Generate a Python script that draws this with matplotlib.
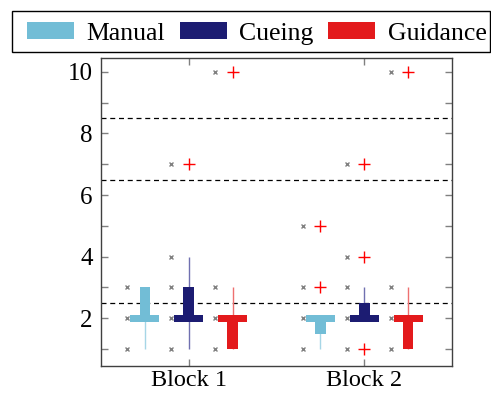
import matplotlib
matplotlib.use("Agg")
import matplotlib.pyplot as plt
from matplotlib.patches import Patch, Rectangle
import numpy as np

blocks = ["Block 1", "Block 2"]
series = ["Manual", "Cueing", "Guidance"]
colors = {"Manual": "#72bdd6", "Cueing": "#1c1c72", "Guidance": "#e31a1c"}
whisker_colors = {"Manual": "#a6d6e6", "Cueing": "#7070b0", "Guidance": "#ee7070"}

# per series: values for [Block 1, Block 2]
q1 = {"Manual": [2, 1.5], "Cueing": [2, 2], "Guidance": [1, 1]}
med = {"Manual": [2, 2], "Cueing": [2, 2], "Guidance": [2, 2]}
q3 = {"Manual": [3, 2], "Cueing": [3, 2.5], "Guidance": [2, 2]}
wlo = {"Manual": [1, 1], "Cueing": [1, 2], "Guidance": [1, 1]}
whi = {"Manual": [3, 2], "Cueing": [4, 3], "Guidance": [3, 3]}
outliers = {"Manual": [[], [3, 5]], "Cueing": [[7], [1, 4, 7]], "Guidance": [[10], [10]]}
raw = {"Manual": [[1, 2, 3], [1, 2, 3, 5]],
       "Cueing": [[1, 2, 3, 4, 7], [1, 2, 3, 4, 7]],
       "Guidance": [[1, 2, 3, 10], [1, 2, 3, 10]]}
hlines = [2.5, 6.5, 8.5]

plt.rcParams['font.family'] = ['Liberation Serif', 'DejaVu Serif']
W, H = 491, 394
fig = plt.figure(figsize=(W / 100, H / 100), dpi=100)
ax = fig.add_axes([101/W, 28/H, 351/W, 308/H])

offsets = {"Manual": -0.25, "Cueing": 0.0, "Guidance": 0.25}
box_w = 0.06
med_w = 0.165
med_h = 0.23
pos = np.arange(1, len(blocks) + 1)

for s in series:
    for i, p in enumerate(pos):
        x = p + offsets[s]
        ax.vlines(x, wlo[s][i], whi[s][i], color=whisker_colors[s], lw=1.0, zorder=2)
        if q3[s][i] > q1[s][i]:
            ax.bar(x, q3[s][i] - q1[s][i], bottom=q1[s][i], width=box_w,
                   color=colors[s], zorder=3, linewidth=0)
        ax.bar(x, med_h, bottom=med[s][i] - med_h / 2, width=med_w,
               color=colors[s], zorder=4, linewidth=0)
        ax.plot([x - 0.1] * len(raw[s][i]), raw[s][i], ls='none', marker='x',
                color='#808080', ms=3.5, mew=1.0, zorder=5)
        if outliers[s][i]:
            ax.plot([x] * len(outliers[s][i]), outliers[s][i], ls='none', marker='+',
                    color='#ff0000', ms=9, mew=1.0, zorder=5)

for h in hlines:
    ax.axhline(h, color='black', ls=(0, (4, 3)), lw=0.9, zorder=1)

ax.set_xlim(0.5, 2.5)
ax.set_ylim(0.45, 10.45)
ax.set_xticks(pos)
ax.set_xticklabels(blocks, fontsize=17.5)
ax.set_yticks(np.arange(1, 11))
ax.set_yticklabels([str(v) if v % 2 == 0 else "" for v in range(1, 11)], fontsize=18)
ax.tick_params(direction='in', top=True, right=True, color='#808080', length=5, width=1)
ax.tick_params(axis='y', pad=6)
ax.tick_params(axis='x', pad=3)
for sp in ax.spines.values():
    sp.set_color('#404040')
    sp.set_linewidth(1.0)

# legend frame (extends to the right edge of the figure)
fig.patches.append(Rectangle((12/W, 1 - 52/H), (490 - 12)/W, 41/H, transform=fig.transFigure,
                             facecolor='white', edgecolor='black', linewidth=1.0,
                             figure=fig, zorder=0))
handles = [Patch(facecolor=colors[s], edgecolor='none', label=s) for s in series]
leg = fig.legend(handles=handles, loc='center left', bbox_to_anchor=(27/W, 1 - 33.5/H),
                 ncol=3, fontsize=18.5, frameon=False, handlelength=1.84,
                 handleheight=0.6, handletextpad=0.48, columnspacing=0.56,
                 borderpad=0, borderaxespad=0)

fig.savefig("out.png", dpi=100)
